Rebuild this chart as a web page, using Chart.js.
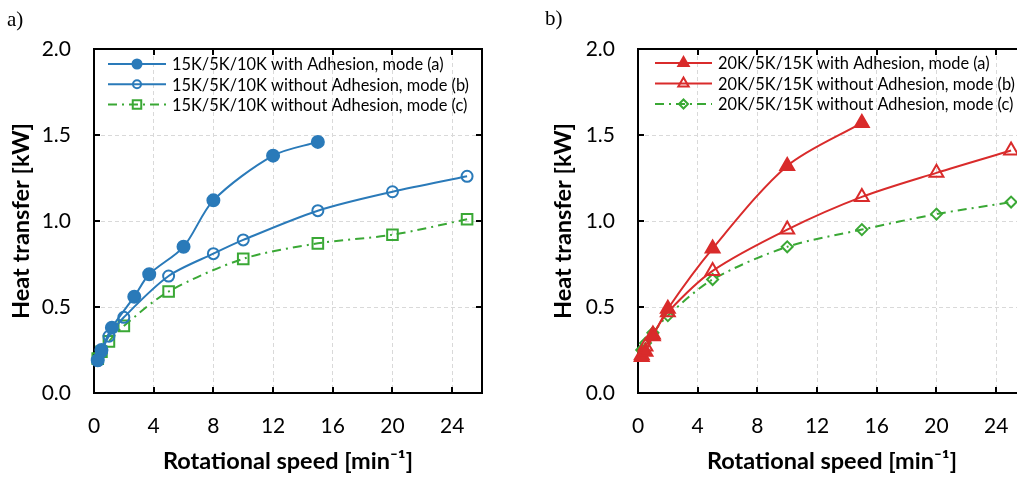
<!DOCTYPE html>
<html>
<head>
<meta charset="utf-8">
<script src="https://cdn.jsdelivr.net/npm/chart.js@4.4.0/dist/chart.umd.min.js"></script>
<style>
  html, body { margin: 0; padding: 0; background: #fff; overflow: hidden; width: 1017px; height: 477px; }
  .panel { position: absolute; top: 0; height: 477px; }
  #wrapA { left: 0; width: 500px; }
  #wrapB { left: 500px; width: 536px; }
  .tag { position: absolute; z-index: 2; font-family: "Liberation Serif", serif; font-size: 21px; color: #000; }
</style>
</head>
<body>
<div class="panel" id="wrapA"><canvas id="chartA" width="500" height="477"></canvas></div>
<div class="panel" id="wrapB"><canvas id="chartB" width="536" height="477"></canvas></div>
<div class="tag" style="left:7px;top:7px">a)</div>
<div class="tag" style="left:545px;top:6px">b)</div>
<script>
// ---- data ----
const xTicksMax = 26;

// panel a) 15K/5K/10K
const aModeAx = [0.25, 0.5, 1.2, 2.7, 3.7, 6, 8, 12, 15];
const aModeAy = [0.19, 0.25, 0.38, 0.56, 0.69, 0.85, 1.12, 1.38, 1.46];
const aModeBx = [0.25, 0.5, 1, 2, 5, 8, 10, 15, 20, 25];
const aModeBy = [0.19, 0.24, 0.33, 0.44, 0.68, 0.81, 0.89, 1.06, 1.17, 1.26];
const aModeCx = [0.25, 0.5, 1, 2, 5, 10, 15, 20, 25];
const aModeCy = [0.20, 0.24, 0.30, 0.39, 0.59, 0.78, 0.87, 0.92, 1.01];

// panel b) 20K/5K/15K
const bModeAx = [0.25, 0.5, 1, 2, 5, 10, 15];
const bModeAy = [0.21, 0.24, 0.33, 0.49, 0.84, 1.32, 1.57];
const bModeBx = [0.25, 0.5, 1, 2, 5, 10, 15, 20, 25];
const bModeBy = [0.22, 0.27, 0.34, 0.47, 0.71, 0.95, 1.14, 1.28, 1.41];
const bModeCx = [0.25, 0.5, 1, 2, 5, 10, 15, 20, 25];
const bModeCy = [0.25, 0.29, 0.35, 0.45, 0.66, 0.85, 0.95, 1.04, 1.11];

const BLUE = '#2A7AB9';
const RED = '#D92B2B';
const GREEN = '#3AA835';
const NONE = 'rgba(0,0,0,0)';

function series(label, xs, ys, options = {}) {
  return {
    label,
    data: xs.map((x, i) => ({ x, y: ys[i] })),
    tension: 0.3,
    borderWidth: 2,
    pointBorderWidth: 2,
    clip: false,
    ...options
  };
}

// black frame with inward tick marks
const framePlugin = {
  id: 'frame',
  beforeDatasetsDraw(chart) {
    const { ctx, chartArea: a, scales: { x, y } } = chart;
    ctx.save();
    ctx.strokeStyle = '#000';
    ctx.lineWidth = 2;
    ctx.strokeRect(a.left, a.top, a.right - a.left, a.bottom - a.top);
    ctx.beginPath();
    x.ticks.forEach((t) => {
      const px = Math.round(x.getPixelForValue(t.value));
      ctx.moveTo(px, a.bottom); ctx.lineTo(px, a.bottom - 6);
      ctx.moveTo(px, a.top); ctx.lineTo(px, a.top + 6);
    });
    y.ticks.forEach((t) => {
      const py = Math.round(y.getPixelForValue(t.value));
      ctx.moveTo(a.left, py); ctx.lineTo(a.left + 6, py);
      ctx.moveTo(a.right, py); ctx.lineTo(a.right - 6, py);
    });
    ctx.stroke();
    ctx.restore();
  }
};

// legend drawn inside the plot, line sample with marker
const insideLegend = {
  id: 'insideLegend',
  afterDatasetsDraw(chart, args, opts) {
    const { ctx, chartArea: a } = chart;
    ctx.save();
    chart.data.datasets.forEach((ds, i) => {
      const y = a.top + opts.top + i * opts.rowGap;
      const x0 = a.left + opts.lineStart;
      const x1 = a.left + opts.lineEnd;
      ctx.strokeStyle = ds.borderColor;
      ctx.lineWidth = ds.borderWidth;
      ctx.setLineDash(ds.borderDash || []);
      ctx.beginPath();
      ctx.moveTo(x0, y);
      ctx.lineTo(x1, y);
      ctx.stroke();
      ctx.setLineDash([]);
      ctx.fillStyle = ds.pointBackgroundColor;
      ctx.strokeStyle = ds.pointBorderColor;
      ctx.lineWidth = ds.pointBorderWidth;
      Chart.helpers.drawPoint(ctx, {
        pointStyle: ds.pointStyle,
        radius: ds.legendRadius,
        rotation: 0,
        borderWidth: ds.pointBorderWidth
      }, (x0 + x1) / 2, y);
      ctx.fillStyle = '#000';
      ctx.font = '16.4px Lato';
      ctx.textBaseline = 'middle';
      ctx.fillText(ds.label, a.left + opts.textStart, y + 1);
    });
    ctx.restore();
  }
};

function makeChart(canvasId, datasets, cfg) {
  const ctx = document.getElementById(canvasId);
  return new Chart(ctx, {
    type: 'line',
    data: { datasets },
    plugins: [framePlugin, insideLegend],
    options: {
      responsive: false,
      animation: false,
      events: [],
      layout: { padding: cfg.padding },
      plugins: {
        legend: { display: false },
        tooltip: { enabled: false },
        insideLegend: cfg.legend
      },
      scales: {
        x: {
          type: 'linear',
          min: 0,
          max: xTicksMax,
          afterFit: (s) => {
            s.height = 84;
            s.paddingLeft = 0;
            s.paddingRight = 0;
          },
          ticks: {
            stepSize: 4,
            includeBounds: false,
            padding: 21,
            color: '#000',
            font: { family: 'Lato', size: 21 }
          },
          grid: { color: '#D9D9D9', lineWidth: 1, drawTicks: false },
          border: { display: false, dash: [4, 3] },
          title: {
            display: true,
            text: 'Rotational speed [min⁻¹]',
            color: '#000',
            font: { family: 'Lato', size: 23.5, weight: 'bold' },
            padding: { top: 0, bottom: 1 }
          }
        },
        y: {
          min: 0,
          max: 2,
          afterFit: (s) => { s.width = cfg.yWidth; },
          ticks: {
            stepSize: 0.5,
            padding: 23,
            color: '#000',
            font: { family: 'Lato', size: 21 },
            callback: (v) => v.toFixed(1)
          },
          grid: { color: '#D9D9D9', lineWidth: 1, drawTicks: false },
          border: { display: false, dash: [4, 3] },
          title: {
            display: true,
            text: 'Heat transfer [kW]',
            color: '#000',
            font: { family: 'Lato', size: 23.5, weight: 'bold' },
            padding: { top: cfg.yTitlePad, bottom: 0 }
          }
        }
      }
    }
  });
}

makeChart('chartA', [
  series('15K/5K/10K with Adhesion, mode (a)', aModeAx, aModeAy, {
    borderColor: BLUE, pointStyle: 'circle', pointRadius: 6, legendRadius: 4.5,
    pointBackgroundColor: BLUE, pointBorderColor: BLUE
  }),
  series('15K/5K/10K without Adhesion, mode (b)', aModeBx, aModeBy, {
    borderColor: BLUE, pointStyle: 'circle', pointRadius: 5.5, legendRadius: 4,
    pointBackgroundColor: NONE, pointBorderColor: BLUE
  }),
  series('15K/5K/10K without Adhesion, mode (c)', aModeCx, aModeCy, {
    borderColor: GREEN, borderDash: [9, 5, 2, 5], pointStyle: 'rect', pointRadius: 7.5, legendRadius: 6,
    pointBackgroundColor: NONE, pointBorderColor: GREEN
  })
], {
  padding: { left: 0, top: 49, right: 18, bottom: 0 },
  yWidth: 94,
  yTitlePad: 7,
  legend: { top: 15, rowGap: 20.3, lineStart: 14, lineEnd: 72, textStart: 78 }
});

makeChart('chartB', [
  series('20K/5K/15K with Adhesion, mode (a)', bModeAx, bModeAy, {
    borderColor: RED, pointStyle: 'triangle', pointRadius: 8, legendRadius: 6,
    pointBackgroundColor: RED, pointBorderColor: RED
  }),
  series('20K/5K/15K without Adhesion, mode (b)', bModeBx, bModeBy, {
    borderColor: RED, pointStyle: 'triangle', pointRadius: 8, legendRadius: 6,
    pointBackgroundColor: NONE, pointBorderColor: RED
  }),
  series('20K/5K/15K without Adhesion, mode (c)', bModeCx, bModeCy, {
    borderColor: GREEN, borderDash: [9, 5, 2, 5], pointStyle: 'rectRot', pointRadius: 5.5, legendRadius: 4.5,
    pointBackgroundColor: NONE, pointBorderColor: GREEN
  })
], {
  padding: { left: 40, top: 49, right: 4, bottom: 0 },
  yWidth: 98,
  yTitlePad: 9,
  legend: { top: 14, rowGap: 20.5, lineStart: 17, lineEnd: 74, textStart: 80 }
});
</script>
</body>
</html>
